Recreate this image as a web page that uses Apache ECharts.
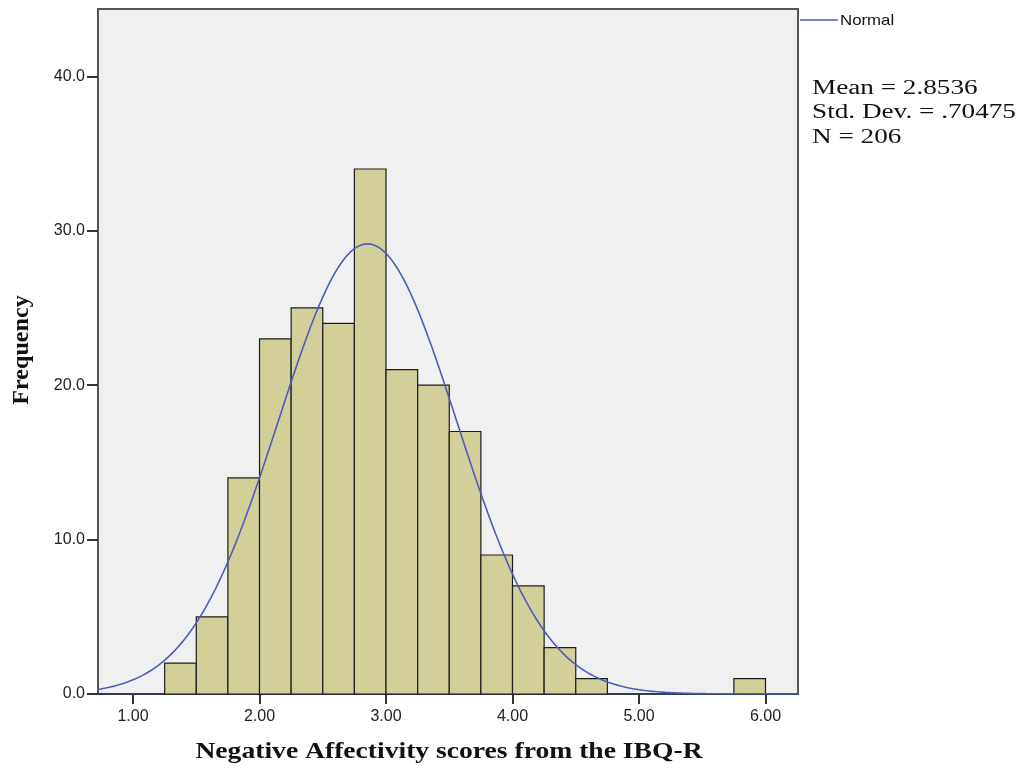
<!DOCTYPE html>
<html>
<head>
<meta charset="utf-8">
<script src="https://cdn.jsdelivr.net/npm/echarts@6/dist/echarts.min.js"></script>
<style>
  html, body { margin: 0; padding: 0; background: #ffffff; }
  #chart { width: 1030px; height: 769px; }
</style>
</head>
<body>
<div id="chart"></div>
<script>
// Histogram bins (lower edge of each 0.25-wide bin) and their frequencies
const binLower = [1.25, 1.50, 1.75, 2.00, 2.25, 2.50, 2.75, 3.00, 3.25, 3.50, 3.75, 4.00, 4.25, 4.50, 5.75];
const binCounts = [2, 5, 14, 23, 25, 24, 34, 21, 20, 17, 9, 7, 3, 1, 1];
const binWidth = 0.25;

// Summary statistics shown beside the plot
const statMean = 2.8536;
const statSD = 0.70475;
const statN = 206;

// Tick positions
const xTicks = [1, 2, 3, 4, 5, 6];
const yTicks = [0, 10, 20, 30, 40];

const X_MIN = 0.723, X_MAX = 6.257, Y_MAX = 44.36;

const histData = binLower.map((lo, i) => [lo, lo + binWidth, binCounts[i]]);

// Fitted normal curve scaled to frequency per bin
const normalData = [];
for (let k = 0; k <= 280; k++) {
  const x = X_MIN + (X_MAX - X_MIN) * k / 280;
  const z = (x - statMean) / statSD;
  const y = statN * binWidth * Math.exp(-0.5 * z * z) / (statSD * Math.sqrt(2 * Math.PI));
  normalData.push([x, y]);
}

const SANS = '"Liberation Sans", Arial, sans-serif';
const SERIF = '"Liberation Serif", "Times New Roman", serif';
const CURVE_COLOR = '#4a5cbc';

const chart = echarts.init(document.getElementById('chart'), null, { renderer: 'canvas' });

const option = {
  animation: false,
  backgroundColor: '#ffffff',
  grid: {
    left: 98, right: 232, top: 9, bottom: 75,
    containLabel: false,
    outerBoundsMode: 'none',
    show: true,
    backgroundColor: '#f0f0f0',
    borderColor: '#555555',
    borderWidth: 2
  },
  xAxis: {
    type: 'value',
    min: X_MIN, max: X_MAX,
    axisLine: { show: true, onZero: false, lineStyle: { color: '#333a55', width: 2 } },
    axisTick: { show: true, length: 10, customValues: xTicks, lineStyle: { color: '#333', width: 2 } },
    axisLabel: {
      customValues: xTicks,
      formatter: v => v.toFixed(2),
      fontFamily: SANS, fontSize: 16, color: '#222', margin: 15
    },
    splitLine: { show: false }
  },
  yAxis: {
    type: 'value',
    min: 0, max: Y_MAX,
    axisLine: { show: true, lineStyle: { color: '#555555', width: 2 } },
    axisTick: { show: true, length: 11, customValues: yTicks, lineStyle: { color: '#333', width: 2 } },
    axisLabel: {
      customValues: yTicks,
      formatter: v => v.toFixed(1),
      fontFamily: SANS, fontSize: 16, color: '#222', margin: 13
    },
    splitLine: { show: false }
  },
  graphic: [
    // legend entry
    {
      type: 'line', x: 0, y: 0,
      shape: { x1: 800, y1: 20, x2: 838, y2: 20 },
      style: { stroke: CURVE_COLOR, lineWidth: 1.6 }
    },
    {
      type: 'text', x: 840, y: 21, scaleX: 1.12,
      style: { text: 'Normal', font: '15px ' + SANS, fill: '#111', textAlign: 'left', textVerticalAlign: 'middle' }
    },
    // summary statistics
    {
      type: 'text', x: 812, y: 76, scaleX: 1.36,
      style: {
        text: 'Mean = ' + statMean.toFixed(4) + '\nStd. Dev. = .70475\nN = ' + statN,
        font: '20px ' + SERIF,
        lineHeight: 24.5,
        fill: '#111',
        textAlign: 'left', textVerticalAlign: 'top'
      }
    },
    // axis titles
    {
      type: 'text', x: 449, y: 752, scaleX: 1.2,
      style: {
        text: 'Negative Affectivity scores from the IBQ-R',
        font: 'bold 23px ' + SERIF, fill: '#111',
        textAlign: 'center', textVerticalAlign: 'middle'
      }
    },
    {
      type: 'text', x: 22, y: 350, rotation: Math.PI / 2, scaleX: 1.05,
      style: {
        text: 'Frequency',
        font: 'bold 23px ' + SERIF, fill: '#111',
        textAlign: 'center', textVerticalAlign: 'middle'
      }
    }
  ],
  series: [
    {
      name: 'Histogram',
      type: 'custom',
      data: histData,
      encode: { x: [0, 1], y: 2 },
      renderItem: function (params, api) {
        const p0 = api.coord([api.value(0), api.value(2)]);
        const p1 = api.coord([api.value(1), 0]);
        return {
          type: 'rect',
          shape: { x: p0[0], y: p0[1], width: p1[0] - p0[0], height: p1[1] - p0[1] },
          style: { fill: '#d3cf98', stroke: '#1c1c1c', lineWidth: 1.2 }
        };
      },
      z: 2
    },
    {
      name: 'Normal',
      type: 'line',
      data: normalData,
      showSymbol: false,
      symbol: 'none',
      smooth: false,
      clip: true,
      lineStyle: { color: CURVE_COLOR, width: 1.6 },
      itemStyle: { color: CURVE_COLOR },
      z: 3
    }
  ]
};

chart.setOption(option);
</script>
</body>
</html>
